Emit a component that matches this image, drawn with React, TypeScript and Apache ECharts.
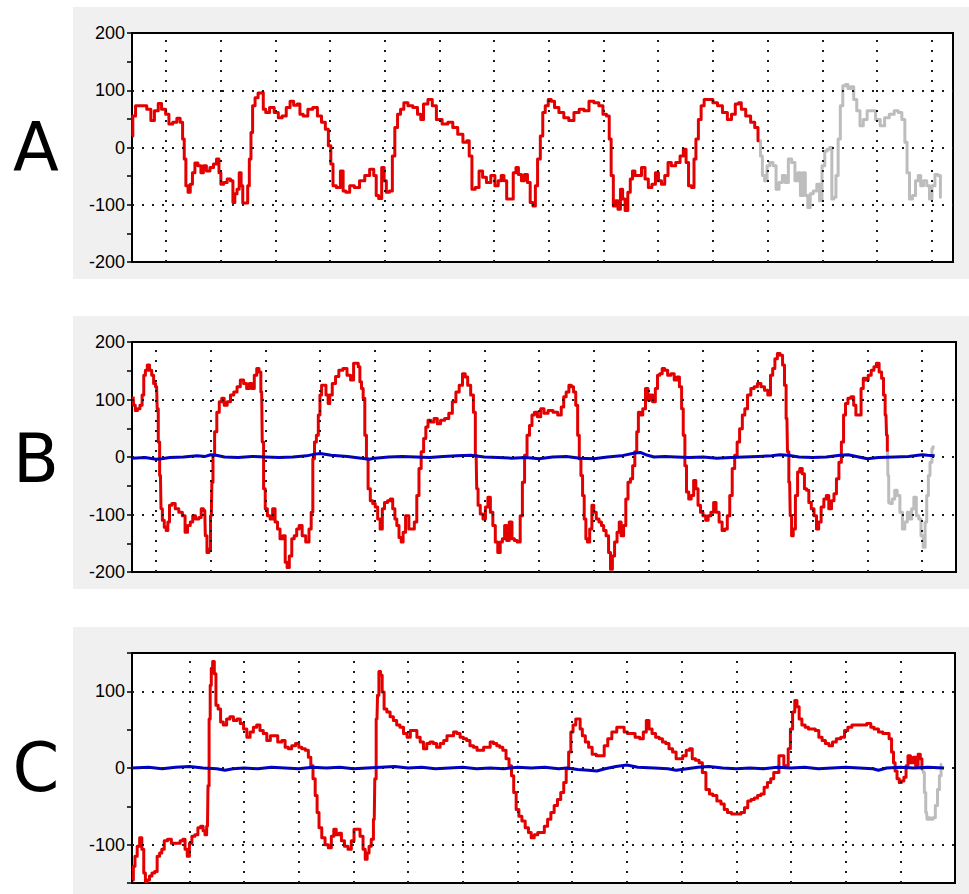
import React, { useEffect, useRef } from 'react';
import * as echarts from 'echarts';

// ---- data: [time (grid units), value] ----
const aRed: [number, number][] = [
  [0.38, 20], [0.41, 55], [0.48, 73], [0.59, 73], [0.71, 67], [0.74, 47], [0.84, 64], [0.88, 77], [0.96, 67], [1.03, 58],
  [1.08, 41], [1.17, 44], [1.23, 51], [1.29, 44], [1.32, 15], [1.35, -20], [1.38, -67], [1.43, -78], [1.46, -64], [1.51, -44],
  [1.55, -27], [1.62, -32], [1.66, -44], [1.71, -32], [1.77, -41], [1.84, -35], [1.90, -29], [1.95, -20], [1.99, -44], [2.02, -64],
  [2.09, -61], [2.15, -55], [2.21, -58], [2.24, -96], [2.28, -81], [2.32, -73], [2.36, -44], [2.39, -67], [2.42, -97], [2.48, -97],
  [2.51, -67], [2.54, -20], [2.57, 26], [2.60, 73], [2.66, 87], [2.71, 95], [2.76, 96], [2.80, 67], [2.85, 61], [2.94, 70],
  [3.02, 61], [3.09, 52], [3.16, 55], [3.24, 70], [3.30, 81], [3.37, 74], [3.43, 76], [3.47, 58], [3.55, 55], [3.64, 67],
  [3.73, 70], [3.81, 55], [3.88, 44], [3.95, 32], [3.99, 3], [4.04, -29], [4.07, -67], [4.16, -70], [4.22, -41], [4.26, -76],
  [4.32, -78], [4.40, -67], [4.49, -70], [4.59, -58], [4.68, -49], [4.77, -38], [4.83, -49], [4.86, -84], [4.92, -89], [4.97, -35],
  [5.01, -58], [5.05, -78], [5.12, -76], [5.16, -15], [5.21, 35], [5.26, 58], [5.32, 67], [5.38, 78], [5.47, 73], [5.56, 70],
  [5.64, 58], [5.68, 49], [5.74, 76], [5.84, 84], [5.90, 73], [5.99, 49], [6.11, 41], [6.20, 44], [6.29, 35], [6.38, 23],
  [6.48, 9], [6.52, 12], [6.57, -15], [6.62, -73], [6.69, -70], [6.76, -41], [6.82, -52], [6.90, -61], [6.98, -49], [7.05, -67],
  [7.10, -58], [7.16, -49], [7.20, -58], [7.26, -90], [7.32, -90], [7.38, -44], [7.42, -35], [7.47, -47], [7.53, -58], [7.58, -47],
  [7.64, -61], [7.68, -96], [7.74, -102], [7.77, -67], [7.82, -20], [7.87, 20], [7.91, 61], [7.96, 73], [8.02, 84], [8.07, 81],
  [8.14, 70], [8.23, 61], [8.32, 52], [8.41, 47], [8.51, 61], [8.60, 67], [8.69, 64], [8.78, 81], [8.87, 78], [8.96, 73],
  [9.02, 58], [9.09, 55], [9.12, 15], [9.16, -49], [9.20, -102], [9.24, -93], [9.29, -108], [9.33, -73], [9.37, -90], [9.42, -110],
  [9.47, -78], [9.51, -55], [9.55, -41], [9.60, -49], [9.66, -49], [9.73, -35], [9.79, -55], [9.85, -70], [9.92, -64], [9.98, -44],
  [10.03, -58], [10.09, -64], [10.15, -49], [10.21, -26], [10.27, -32], [10.37, -26], [10.43, -15], [10.49, -3], [10.53, -26], [10.58, -67],
  [10.64, -70], [10.67, -20], [10.71, 15], [10.76, 49], [10.81, 73], [10.87, 84], [10.96, 84], [11.04, 78], [11.13, 73], [11.22, 61],
  [11.31, 49], [11.37, 58], [11.45, 76], [11.49, 78], [11.55, 67], [11.65, 55], [11.73, 44], [11.80, 35], [11.85, 12],
];

const aGray: [number, number][] = [
  [11.85, 12], [11.89, -15], [11.92, -49], [11.97, -58], [12.01, -32], [12.07, -26], [12.13, -32], [12.18, -73], [12.24, -61], [12.30, -49],
  [12.35, -61], [12.41, -20], [12.47, -26], [12.53, -58], [12.58, -44], [12.62, -84], [12.67, -44], [12.71, -84], [12.76, -105], [12.80, -81],
  [12.87, -76], [12.93, -64], [12.97, -93], [13.02, -32], [13.07, -6], [13.11, -3], [13.16, 0], [13.19, -90], [13.23, -87], [13.27, -49],
  [13.31, 15], [13.35, 73], [13.40, 108], [13.45, 110], [13.49, 103], [13.55, 106], [13.60, 84], [13.66, 64], [13.72, 38], [13.78, 49],
  [13.86, 64], [13.93, 64], [14.02, 49], [14.10, 38], [14.18, 52], [14.27, 58], [14.36, 64], [14.42, 61], [14.49, 49], [14.53, 9],
  [14.57, -44], [14.62, -90], [14.68, -84], [14.73, -58], [14.78, -49], [14.82, -67], [14.88, -58], [14.94, -67], [14.98, -90], [15.03, -67],
  [15.09, -47], [15.14, -49], [15.18, -87],
];

const bRed: [number, number][] = [
  [0.58, 105], [0.60, 90], [0.64, 81], [0.68, 84], [0.73, 90], [0.76, 108], [0.79, 142], [0.82, 151], [0.86, 160], [0.90, 151],
  [0.94, 142], [0.97, 128], [1.01, 122], [1.03, 84], [1.05, 26], [1.08, -32], [1.10, -90], [1.13, -110], [1.17, -122], [1.20, -128],
  [1.23, -113], [1.26, -84], [1.32, -81], [1.38, -90], [1.45, -96], [1.51, -102], [1.55, -131], [1.60, -119], [1.65, -113], [1.69, -102],
  [1.75, -108], [1.81, -105], [1.84, -90], [1.89, -93], [1.91, -137], [1.95, -166], [1.98, -160], [2.01, -102], [2.03, -44], [2.05, 3],
  [2.09, 44], [2.13, 78], [2.18, 96], [2.22, 102], [2.27, 90], [2.33, 96], [2.39, 108], [2.45, 113], [2.51, 122], [2.57, 134],
  [2.63, 128], [2.68, 119], [2.73, 128], [2.77, 119], [2.82, 142], [2.86, 154], [2.90, 148], [2.93, 113], [2.95, 26], [2.98, -55],
  [3.01, -90], [3.06, -102], [3.11, -108], [3.15, -90], [3.20, -113], [3.24, -125], [3.29, -142], [3.34, -137], [3.38, -183], [3.41, -192],
  [3.46, -172], [3.50, -142], [3.55, -137], [3.59, -125], [3.64, -119], [3.70, -137], [3.77, -148], [3.82, -125], [3.85, -96], [3.88, -3],
  [3.91, 26], [3.95, 38], [3.98, 73], [4.01, 108], [4.04, 125], [4.08, 125], [4.13, 108], [4.16, 93], [4.19, 108], [4.25, 128],
  [4.31, 140], [4.37, 151], [4.46, 154], [4.52, 142], [4.59, 134], [4.63, 163], [4.68, 163], [4.71, 157], [4.74, 131], [4.77, 119],
  [4.80, 102], [4.83, 38], [4.86, -3], [4.89, -55], [4.94, -76], [4.98, -81], [5.03, -87], [5.07, -108], [5.12, -125], [5.15, -90],
  [5.20, -79], [5.26, -76], [5.30, -73], [5.35, -90], [5.38, -108], [5.42, -119], [5.46, -140], [5.50, -148], [5.53, -131], [5.59, -102],
  [5.65, -125], [5.70, -125], [5.74, -113], [5.79, -67], [5.82, -20], [5.87, 9], [5.91, 32], [5.95, 52], [5.99, 64], [6.05, 61],
  [6.11, 67], [6.17, 58], [6.23, 64], [6.32, 67], [6.38, 76], [6.45, 96], [6.51, 113], [6.57, 125], [6.63, 145], [6.67, 139],
  [6.72, 125], [6.78, 108], [6.82, 78], [6.85, 3], [6.87, -55], [6.90, -84], [6.95, -99], [7.00, -108], [7.04, -87], [7.09, -70],
  [7.13, -96], [7.18, -119], [7.22, -148], [7.27, -166], [7.31, -148], [7.35, -142], [7.39, -119], [7.43, -145], [7.48, -113], [7.53, -142],
  [7.57, -145], [7.63, -148], [7.68, -102], [7.71, -44], [7.76, 3], [7.80, 38], [7.85, 55], [7.89, 73], [7.94, 78], [8.00, 70],
  [8.06, 84], [8.12, 76], [8.21, 81], [8.30, 78], [8.38, 73], [8.43, 87], [8.47, 105], [8.52, 113], [8.57, 125], [8.61, 122],
  [8.65, 113], [8.69, 90], [8.72, 38], [8.75, -3], [8.78, -32], [8.81, -67], [8.84, -108], [8.87, -142], [8.90, -148], [8.95, -125],
  [8.98, -84], [9.02, -96], [9.07, -108], [9.12, -113], [9.16, -119], [9.20, -128], [9.25, -137], [9.29, -166], [9.32, -195], [9.36, -172],
  [9.40, -148], [9.45, -131], [9.48, -113], [9.52, -137], [9.57, -119], [9.60, -73], [9.65, -44], [9.69, -38], [9.73, -15], [9.77, 9],
  [9.80, 44], [9.83, 78], [9.87, 73], [9.92, 84], [9.97, 119], [10.01, 99], [10.05, 108], [10.10, 96], [10.15, 119], [10.18, 142],
  [10.23, 145], [10.27, 154], [10.32, 151], [10.38, 142], [10.44, 145], [10.50, 134], [10.54, 139], [10.59, 122], [10.62, 84], [10.65, 38],
  [10.68, -15], [10.71, -61], [10.76, -73], [10.80, -67], [10.85, -41], [10.88, -55], [10.93, -84], [10.97, -96], [11.02, -102], [11.07, -110],
  [11.11, -102], [11.17, -96], [11.21, -79], [11.26, -96], [11.32, -113], [11.37, -128], [11.42, -125], [11.46, -102], [11.51, -67], [11.55, -20],
  [11.60, 3], [11.64, 26], [11.69, 49], [11.74, 73], [11.78, 84], [11.84, 108], [11.90, 119], [11.96, 122], [12.02, 128], [12.09, 122],
  [12.15, 116], [12.21, 108], [12.25, 142], [12.29, 154], [12.33, 171], [12.38, 180], [12.43, 177], [12.47, 160], [12.50, 125], [12.53, 67],
  [12.55, 9], [12.58, -44], [12.60, -102], [12.63, -137], [12.66, -125], [12.71, -67], [12.74, -26], [12.79, -20], [12.83, -29], [12.87, -55],
  [12.91, -58], [12.95, -79], [13.00, -90], [13.05, -102], [13.09, -125], [13.13, -113], [13.18, -87], [13.23, -73], [13.27, -67], [13.32, -90],
  [13.37, -76], [13.41, -64], [13.46, -38], [13.50, -9], [13.55, 26], [13.58, 73], [13.62, 93], [13.67, 102], [13.73, 105], [13.77, 90],
  [13.81, 73], [13.87, 73], [13.90, 119], [13.95, 137], [13.99, 134], [14.04, 142], [14.10, 151], [14.14, 157], [14.19, 163], [14.24, 148],
  [14.28, 137], [14.31, 108], [14.34, 73], [14.36, 38], [14.37, 9],
];

const bGray: [number, number][] = [
  [14.37, 9], [14.38, -32], [14.40, -79], [14.43, -81], [14.48, -73], [14.52, -58], [14.57, -67], [14.62, -96], [14.66, -125], [14.71, -113],
  [14.75, -96], [14.79, -108], [14.83, -90], [14.87, -70], [14.92, -102], [14.96, -108], [15.00, -137], [15.04, -157], [15.07, -113], [15.10, -67],
  [15.13, -32], [15.16, -9], [15.20, 15], [15.21, 20],
];

const bBlue: [number, number][] = [
  [0.56, -2], [0.8, -1], [1.0, -4], [1.1, -3], [1.25, -1], [1.5, 0], [1.75, 2], [1.9, 1], [2.0, 4], [2.1, 3],
  [2.25, 0], [2.5, -1], [2.75, 1], [3.0, 0], [3.25, -1], [3.5, 0], [3.75, 2], [3.9, 5], [4.0, 6], [4.2, 3],
  [4.5, 1], [4.75, -2], [4.9, -4], [5.0, -2], [5.25, 0], [5.5, 1], [5.75, 0], [6.0, -1], [6.25, 1], [6.5, 2],
  [6.75, 3], [7.0, 0], [7.25, -1], [7.5, -2], [7.75, -1], [8.0, -3], [8.25, 0], [8.5, 1], [8.75, -2], [9.0, -3],
  [9.25, 0], [9.5, 2], [9.75, 7], [9.85, 8], [9.95, 4], [10.1, 0], [10.3, 1], [10.5, 0], [10.75, -1], [11.0, 0],
  [11.25, -2], [11.5, -1], [11.75, 0], [12.0, 1], [12.25, 2], [12.4, 4], [12.55, 3], [12.75, 0], [13.0, -1], [13.25, 0],
  [13.5, 3], [13.65, 4], [13.8, 1], [14.0, -3], [14.2, -1], [14.5, 0], [14.75, 1], [15.0, 4], [15.1, 3], [15.23, 2],
];

const cRed: [number, number][] = [
  [-0.04, -146], [-0.01, -128], [0.02, -115], [0.07, -102], [0.11, -91], [0.15, -106], [0.18, -137], [0.21, -148], [0.25, -146], [0.29, -141],
  [0.34, -137], [0.39, -135], [0.43, -115], [0.48, -111], [0.51, -106], [0.57, -95], [0.63, -93], [0.71, -98], [0.80, -98], [0.86, -95],
  [0.90, -93], [0.94, -106], [0.98, -115], [1.02, -98], [1.07, -89], [1.13, -87], [1.18, -78], [1.23, -76], [1.27, -82], [1.30, -87],
  [1.33, -76], [1.35, -23], [1.37, 64], [1.39, 108], [1.41, 130], [1.44, 139], [1.47, 123], [1.50, 82], [1.55, 77], [1.59, 60],
  [1.65, 56], [1.71, 64], [1.77, 67], [1.84, 62], [1.90, 64], [1.96, 58], [2.02, 51], [2.08, 40], [2.14, 47], [2.20, 53],
  [2.26, 56], [2.32, 49], [2.38, 45], [2.45, 36], [2.51, 42], [2.57, 42], [2.66, 34], [2.72, 36], [2.78, 27], [2.84, 25],
  [2.90, 29], [2.98, 32], [3.02, 27], [3.09, 25], [3.15, 23], [3.20, 14], [3.24, 3], [3.28, -14], [3.32, -36], [3.35, -58],
  [3.39, -78], [3.45, -91], [3.51, -100], [3.57, -104], [3.62, -89], [3.66, -80], [3.71, -87], [3.76, -85], [3.80, -95], [3.87, -102],
  [3.93, -106], [3.99, -95], [4.03, -80], [4.09, -80], [4.15, -89], [4.20, -106], [4.23, -119], [4.27, -111], [4.30, -102], [4.35, -93],
  [4.38, -67], [4.40, -14], [4.43, 64], [4.45, 95], [4.48, 126], [4.51, 121], [4.54, 99], [4.58, 77], [4.64, 73], [4.70, 67],
  [4.76, 62], [4.82, 56], [4.88, 53], [4.95, 45], [5.01, 40], [5.07, 49], [5.13, 49], [5.19, 40], [5.25, 34], [5.31, 25],
  [5.37, 32], [5.43, 34], [5.49, 32], [5.55, 27], [5.62, 32], [5.68, 36], [5.74, 42], [5.80, 42], [5.86, 47], [5.92, 45],
  [5.98, 40], [6.04, 38], [6.10, 36], [6.16, 29], [6.23, 27], [6.29, 23], [6.35, 23], [6.41, 27], [6.47, 27], [6.53, 34],
  [6.59, 32], [6.65, 29], [6.70, 27], [6.76, 23], [6.82, 12], [6.87, 3], [6.91, -10], [6.95, -32], [7.00, -54], [7.05, -63],
  [7.11, -69], [7.17, -78], [7.23, -84], [7.27, -91], [7.34, -87], [7.40, -84], [7.46, -84], [7.52, -76], [7.58, -67], [7.64, -58],
  [7.70, -49], [7.76, -41], [7.82, -32], [7.87, -19], [7.91, -1], [7.96, 21], [7.99, 47], [8.04, 56], [8.09, 64], [8.13, 64],
  [8.16, 51], [8.21, 42], [8.27, 34], [8.33, 27], [8.40, 18], [8.48, 16], [8.55, 16], [8.62, 29], [8.68, 38], [8.77, 47],
  [8.86, 53], [8.92, 53], [8.98, 47], [9.04, 45], [9.10, 45], [9.20, 40], [9.27, 38], [9.33, 47], [9.38, 62], [9.43, 51],
  [9.49, 45], [9.56, 40], [9.62, 38], [9.68, 34], [9.74, 32], [9.80, 25], [9.87, 21], [9.93, 12], [9.99, 12], [10.05, 16],
  [10.12, 23], [10.17, 25], [10.22, 12], [10.29, 10], [10.35, 7], [10.41, -6], [10.48, -28], [10.54, -34], [10.60, -36], [10.69, -43],
  [10.75, -47], [10.81, -54], [10.87, -58], [10.96, -60], [11.05, -60], [11.12, -58], [11.18, -52], [11.24, -43], [11.30, -41], [11.36, -39],
  [11.42, -36], [11.48, -34], [11.54, -25], [11.60, -19], [11.66, -14], [11.71, -6], [11.76, -6], [11.80, 16], [11.85, 16], [11.89, 3],
  [11.93, 3], [11.97, 25], [12.01, 51], [12.05, 73], [12.09, 88], [12.13, 80], [12.17, 64], [12.23, 56], [12.29, 53], [12.35, 51],
  [12.41, 51], [12.48, 49], [12.54, 40], [12.60, 36], [12.66, 32], [12.73, 29], [12.79, 34], [12.87, 38], [12.95, 40], [13.01, 49],
  [13.07, 53], [13.16, 56], [13.25, 56], [13.34, 56], [13.43, 58], [13.49, 53], [13.55, 51], [13.65, 47], [13.71, 45], [13.77, 45],
  [13.82, 38], [13.86, 21], [13.89, 7], [13.92, -4], [13.96, -14], [14.00, -19], [14.04, -17], [14.09, -12], [14.12, 3], [14.16, 16],
  [14.21, 7], [14.26, 14], [14.30, 3], [14.35, 18], [14.38, 12], [14.41, -1],
];

const cGray: [number, number][] = [
  [14.41, -1], [14.43, -6], [14.45, -32], [14.48, -58], [14.50, -67], [14.53, -65], [14.57, -67], [14.62, -65], [14.66, -49], [14.70, -28],
  [14.73, -10], [14.76, 5],
];

const cBlue: [number, number][] = [
  [-0.05, 0], [0.25, 1], [0.5, -1], [0.75, 1], [1.0, 2], [1.25, 0], [1.5, -1], [1.65, -3], [1.8, -1], [2.0, 0],
  [2.25, -1], [2.5, 1], [2.75, 0], [3.0, -1], [3.25, 1], [3.5, 0], [3.75, 1], [4.0, -1], [4.25, 0], [4.5, 1],
  [4.75, 2], [5.0, 0], [5.25, 1], [5.5, -1], [5.75, 0], [6.0, 1], [6.25, -1], [6.5, 0], [6.75, -1], [7.0, 1],
  [7.25, 0], [7.5, 1], [7.75, -1], [7.9, 0], [8.1, -2], [8.3, -3], [8.45, -4], [8.6, -1], [8.8, 2], [9.0, 4],
  [9.2, 1], [9.5, 0], [9.75, -1], [9.9, -3], [10.1, -1], [10.3, 1], [10.5, 2], [10.75, 0], [11.0, -1], [11.25, 0],
  [11.5, -1], [11.75, 1], [12.0, 0], [12.25, 1], [12.5, -1], [12.75, 0], [13.0, 1], [13.25, 0], [13.5, -1], [13.6, -3],
  [13.75, 0], [14.0, 1], [14.25, 0], [14.5, 1], [14.8, 0],
];

// axis ranges / grid-line positions (data units)
const xRanges: [number, number][] = [[0.38, 15.39], [0.56, 15.62], [-0.05, 15.0]];
const yRanges: [number, number][] = [[-200, 200], [-200, 200], [-150, 150]];
const yIntervals = [100, 100, 50];
const vGridA = [1, 2, 3, 4, 5, 6, 7, 8, 9, 10, 11, 12, 13, 14, 15];
const vGridB = [1, 2, 3, 4, 5, 6, 7, 8, 9, 10, 11, 12, 13, 14, 15];
const vGridC = [1, 2, 3, 4, 5, 6, 7, 8, 9, 10, 11, 12, 13, 14];
const hGrid = [100, 0, -100];
const panelLabels = ['A', 'B', 'C'];

const RED = '#e30000';
const GRAY = '#bdbdbd';
const BLUE = '#0000c8';

export default function App() {
  const ref = useRef<HTMLDivElement>(null);
  useEffect(() => {
    if (!ref.current) return;
    const chart = echarts.init(ref.current, null, { renderer: 'svg' });

    const gridBoxes = [
      { left: 132, top: 33, width: 821, height: 229 },
      { left: 132, top: 342, width: 824, height: 230 },
      { left: 132, top: 653, width: 823, height: 230 },
    ];
    const panelBoxes = [
      { y: 7, h: 272 },
      { y: 316, h: 273 },
      { y: 627, h: 267 },
    ];
    const labelY = [148, 459, 768];
    const vGrids = [vGridA, vGridB, vGridC];

    const lineSeries = (i: number, data: [number, number][], color: string, z: number, width: number, step: any) => ({
      type: 'line',
      xAxisIndex: i,
      yAxisIndex: i,
      data,
      symbol: 'none',
      showSymbol: false,
      silent: true,
      step,
      z,
      lineStyle: { color, width, join: 'round' },
    });

    const series: any[] = [];
    for (let i = 0; i < 3; i++) {
      series.push({
        type: 'line',
        xAxisIndex: i,
        yAxisIndex: i,
        data: [],
        silent: true,
        z: 1,
        markLine: {
          silent: true,
          symbol: ['none', 'none'],
          label: { show: false },
          emphasis: { disabled: true },
          lineStyle: { color: '#1a1a1a', width: 2, type: [2, 8] },
          data: [
            ...vGrids[i].map((v) => ({ xAxis: v })),
            ...hGrid.map((v) => ({ yAxis: v })),
          ],
        },
      });
    }
    series.push(lineSeries(0, aGray, GRAY, 2, 3, 'middle'));
    series.push(lineSeries(0, aRed, RED, 3, 3, 'middle'));
    series.push(lineSeries(1, bGray, GRAY, 2, 3, 'middle'));
    series.push(lineSeries(1, bRed, RED, 3, 3, 'middle'));
    series.push(lineSeries(1, bBlue, BLUE, 4, 3, false));
    series.push(lineSeries(2, cGray, GRAY, 2, 3, 'middle'));
    series.push(lineSeries(2, cRed, RED, 3, 3, 'middle'));
    series.push(lineSeries(2, cBlue, BLUE, 4, 3, false));

    const option: any = {
      animation: false,
      backgroundColor: '#ffffff',
      graphic: {
        elements: [
          ...panelBoxes.map((p) => ({
            type: 'rect',
            z: -10,
            silent: true,
            shape: { x: 73, y: p.y, width: 896, height: p.h },
            style: { fill: '#f0f0f0' },
          })),
          ...panelLabels.map((t, i) => ({
            type: 'text',
            x: 36,
            y: labelY[i],
            silent: true,
            style: {
              text: t,
              fill: '#000',
              fontSize: 67,
              fontFamily: 'DejaVu Sans',
              align: 'center',
              verticalAlign: 'middle',
              textAlign: 'center',
              textVerticalAlign: 'middle',
            },
          })),
        ],
      },
      grid: gridBoxes.map((g) => ({
        ...g,
        show: true,
        backgroundColor: '#ffffff',
        borderColor: '#000000',
        borderWidth: 2,
      })),
      xAxis: xRanges.map((r, i) => ({
        type: 'value',
        gridIndex: i,
        min: r[0],
        max: r[1],
        show: false,
      })),
      yAxis: yRanges.map((r, i) => ({
        type: 'value',
        gridIndex: i,
        min: r[0],
        max: r[1],
        interval: yIntervals[i],
        axisLine: { show: true, onZero: false, lineStyle: { color: '#000', width: 2 } },
        axisTick: { show: true, length: 5, lineStyle: { color: '#000', width: 1.5 } },
        minorTick: { show: i < 2, splitNumber: 2, length: 5, lineStyle: { color: '#000', width: 1.5 } },
        splitLine: { show: false },
        axisLabel: {
          color: '#000',
          fontSize: 18,
          fontFamily: 'Liberation Sans, Arial, sans-serif',
          margin: 7,
          formatter: (v: number) => (v % 100 === 0 ? String(v) : ''),
        },
      })),
      series,
    };
    chart.setOption(option);
    return () => chart.dispose();
  }, []);

  return (
    <div
      ref={ref}
      style={{ position: 'fixed', left: 0, top: 0, width: 969, height: 894, background: '#fff' }}
    />
  );
}
